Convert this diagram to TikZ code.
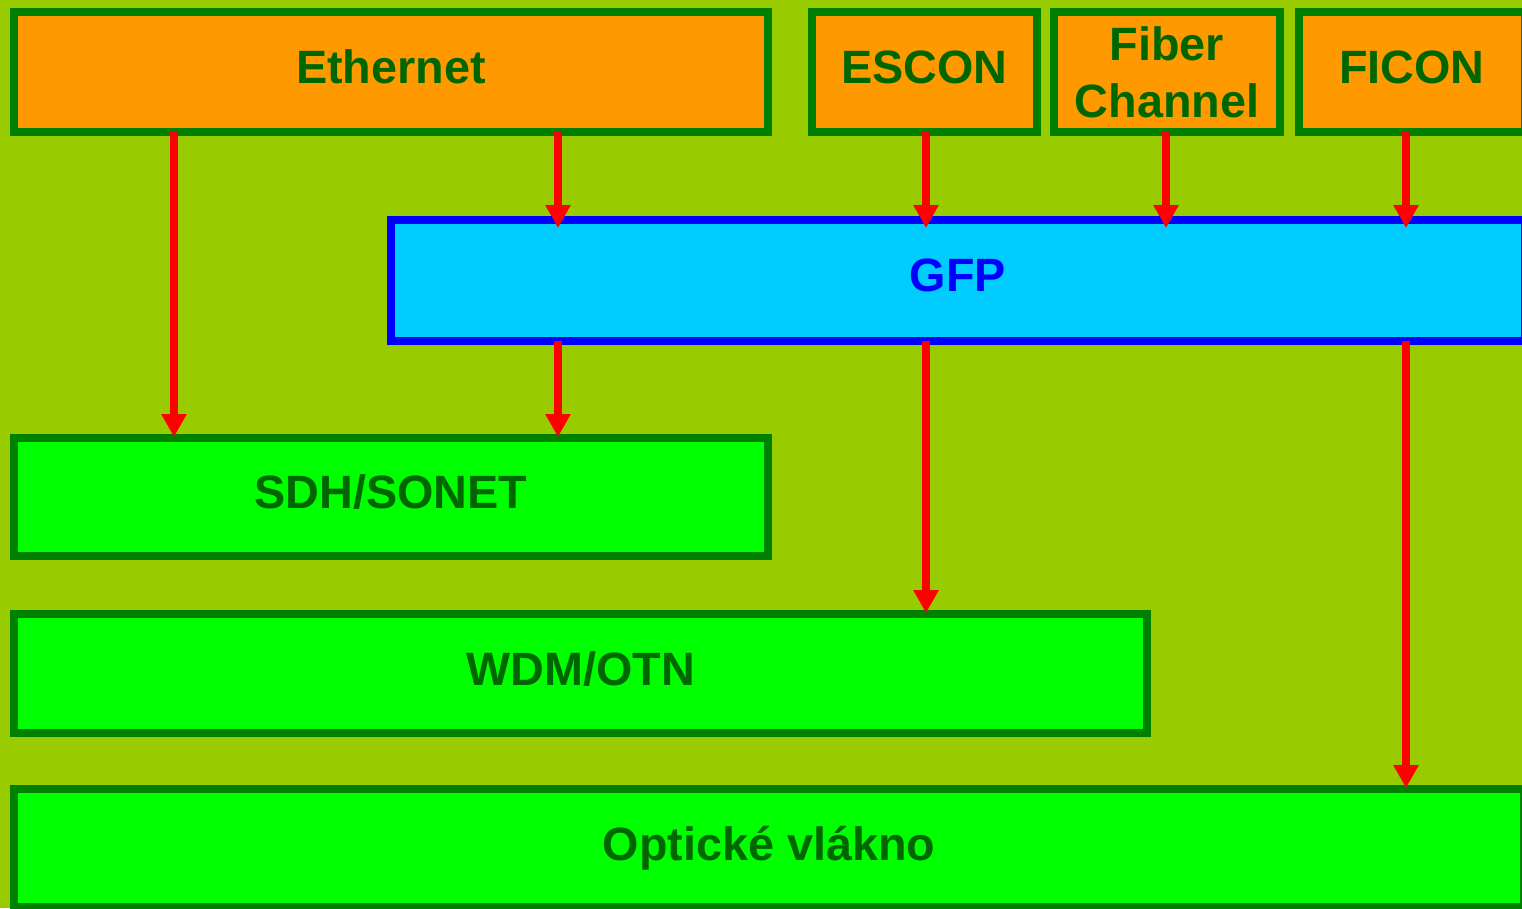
\documentclass[tikz,border=0pt]{standalone}
\usepackage{fontspec}
\setmainfont{Liberation Sans}
\usetikzlibrary{arrows.meta}
\definecolor{bggreen}{HTML}{99CC00}
\definecolor{boxorange}{HTML}{FF9900}
\definecolor{boxline}{HTML}{008000}
\definecolor{boxlime}{HTML}{00FF00}
\definecolor{gfpfill}{HTML}{00CCFF}
\definecolor{txtgreen}{HTML}{006600}
\tikzset{
  layer/.style={draw=boxline, line width=0.08cm, inner sep=0pt, align=center,
    font=\fontsize{13.3}{16.2}\selectfont\bfseries, text=txtgreen},
  oneline/.style={text depth=0.10cm},
  client/.style={layer, fill=boxorange, minimum height=1.20cm},
  transport/.style={layer, fill=boxlime},
  flow/.style={draw=red, line width=0.08cm, shorten <=-0.04cm,
    -{Triangle[width=0.24cm,length=0.23cm]}}
}
\begin{document}
\begin{tikzpicture}
  \useasboundingbox (0,0) rectangle (15.22,-9.08);
  \clip (0,0) rectangle (15.22,-9.08);
  \fill[bggreen] (0,0) rectangle (15.22,-9.08);

  % client layers
  \node[client, oneline, minimum width=7.54cm] (eth) at (3.91,-0.72) {Ethernet};
  \node[client, oneline, minimum width=2.25cm] (escon) at (9.245,-0.72) {ESCON};
  \node[client, minimum width=2.26cm] (fc) at (11.67,-0.72) {Fiber\\Channel};
  \node[client, oneline, minimum width=2.26cm] (ficon) at (14.12,-0.72) {FICON};

  % framing
  \node[layer, oneline, draw=blue, fill=gfpfill, text=blue, minimum width=11.34cm,
    minimum height=1.21cm] (gfp) at (9.58,-2.805) {GFP};

  % transport layers
  \node[transport, oneline, minimum width=7.54cm, minimum height=1.18cm] (sdh) at (3.91,-4.97) {SDH/SONET};
  \node[transport, oneline, minimum width=11.33cm, minimum height=1.19cm] (wdm) at (5.805,-6.735) {WDM/OTN};
  \node[transport, minimum width=15.10cm, minimum height=1.18cm] (fiber) at (7.69,-8.48) {Optické vlákno};

  \coordinate (x1) at (1.74,0);
  \coordinate (x2) at (5.58,0);
  \coordinate (x3) at (9.26,0);
  \coordinate (x4) at (11.66,0);
  \coordinate (x5) at (14.06,0);

  \draw[flow, shorten >=-0.03cm] (eth.south -| x1) -- (sdh.north -| x1);
  \draw[flow, shorten >=-0.12cm] (eth.south -| x2) -- (gfp.north -| x2);
  \draw[flow, shorten >=-0.03cm] (gfp.south -| x2) -- (sdh.north -| x2);
  \draw[flow, shorten >=-0.12cm] (escon.south -| x3) -- (gfp.north -| x3);
  \draw[flow, shorten >=-0.03cm] (gfp.south -| x3) -- (wdm.north -| x3);
  \draw[flow, shorten >=-0.12cm] (fc.south -| x4) -- (gfp.north -| x4);
  \draw[flow, shorten >=-0.12cm] (ficon.south -| x5) -- (gfp.north -| x5);
  \draw[flow, shorten >=-0.03cm] (gfp.south -| x5) -- (fiber.north -| x5);
\end{tikzpicture}
\end{document}
